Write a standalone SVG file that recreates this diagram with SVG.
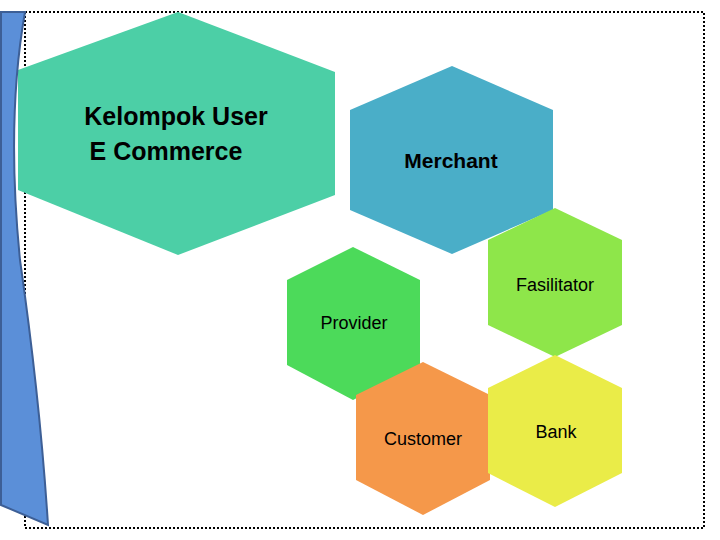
<svg xmlns="http://www.w3.org/2000/svg" width="720" height="540" viewBox="0 0 720 540">
<style>
.t{font-family:"Liberation Sans",Arial,sans-serif;fill:#000;text-anchor:middle}
.big{font-size:25px;font-weight:bold}
.mid{font-size:21px;font-weight:bold}
.sm{font-size:18px}
</style>
<rect width="720" height="540" fill="#fff"/>
<rect x="25" y="12" width="679" height="516" fill="none" stroke="#000" stroke-width="2" stroke-dasharray="2,2"/>
<g id="kelompok"><polygon points="178,12 335,72 335,195 178,255 18,190 18,70" fill="#4ccfa6"/>
<text class="t big" x="176" y="125">Kelompok User</text><text class="t big" x="166" y="160">E Commerce</text></g>
<g id="merchant"><polygon points="452,66 553,110 553,210 452,254 350,210 350,110" fill="#4aaec8"/>
<text class="t mid" x="451" y="168">Merchant</text></g>
<g id="fasilitator"><polygon points="555,208 622,240 622,325 555,357 488,325 488,240" fill="#8ee64a"/>
<text class="t sm" x="555" y="291">Fasilitator</text></g>
<g id="provider"><polygon points="353,247 420,280 420,365 353,400 287,365 287,280" fill="#4cda5a"/>
<text class="t sm" x="354" y="329">Provider</text></g>
<g id="customer"><polygon points="423,362 490,395 490,480 423,515 356,480 356,395" fill="#f5984a"/>
<text class="t sm" x="423" y="445">Customer</text></g>
<g id="bank"><polygon points="555,355 622,388 622,473 555,507 488,473 488,388" fill="#eaec48"/>
<text class="t sm" x="556" y="438">Bank</text></g>
<g id="connectors"></g>
<path d="M1,12 L25,12 Q6,120 20,260 Q40,400 48,525 L1,505 Z" fill="#5b8fd8" stroke="#3d5f96" stroke-width="2"/>
</svg>
